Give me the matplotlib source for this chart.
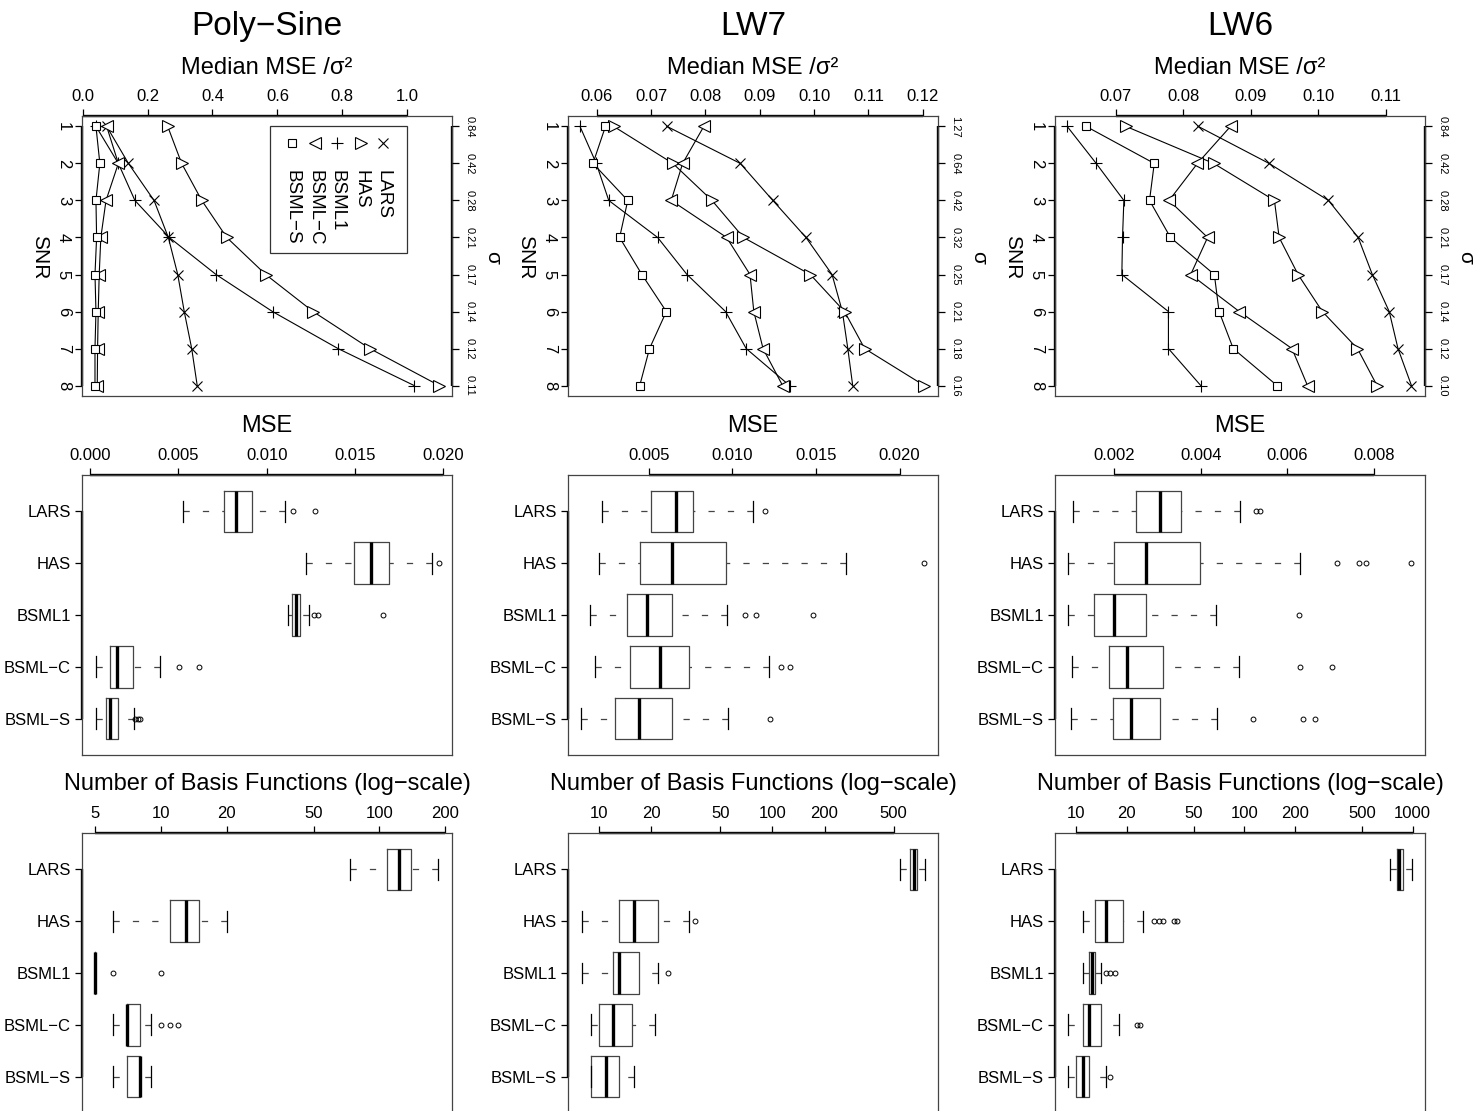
import numpy as np
import matplotlib.pyplot as plt
from matplotlib.patches import Rectangle
from matplotlib.ticker import NullLocator

plt.rcParams['font.family'] = ['Liberation Sans', 'DejaVu Sans']

titles = ['Poly\u2212Sine', 'LW7', 'LW6']
methods = ['LARS', 'HAS', 'BSML1', 'BSML\u2212C', 'BSML\u2212S']
snr = [1, 2, 3, 4, 5, 6, 7, 8]

sigma_labels = [
    ['0.84', '0.42', '0.28', '0.21', '0.17', '0.14', '0.12', '0.11'],
    ['1.27', '0.64', '0.42', '0.32', '0.25', '0.21', '0.18', '0.16'],
    ['0.84', '0.42', '0.28', '0.21', '0.17', '0.14', '0.12', '0.10'],
]

# median MSE / sigma^2 against SNR (order: LARS, HAS, BSML1, BSML-C, BSML-S)
polysine_med = [
    [0.074, 0.141, 0.220, 0.264, 0.293, 0.313, 0.336, 0.353],
    [0.262, 0.305, 0.367, 0.444, 0.564, 0.710, 0.885, 1.099],
    [0.041, 0.110, 0.161, 0.267, 0.411, 0.585, 0.787, 1.022],
    [0.074, 0.110, 0.072, 0.056, 0.051, 0.048, 0.046, 0.045],
    [0.041, 0.053, 0.041, 0.043, 0.038, 0.041, 0.038, 0.038],
]
lw7_med = [
    [0.0729, 0.0864, 0.0924, 0.0985, 0.1033, 0.1052, 0.1062, 0.1071],
    [0.0631, 0.0740, 0.0812, 0.0870, 0.0993, 0.1056, 0.1093, 0.1203],
    [0.0569, 0.0599, 0.0622, 0.0712, 0.0766, 0.0837, 0.0875, 0.0955],
    [0.0797, 0.0758, 0.0737, 0.0839, 0.0882, 0.0889, 0.0906, 0.0942],
    [0.0616, 0.0593, 0.0657, 0.0642, 0.0683, 0.0728, 0.0697, 0.0679],
]
lw6_med = [
    [0.0822, 0.0927, 0.1015, 0.1059, 0.1080, 0.1105, 0.1118, 0.1138],
    [0.0715, 0.0845, 0.0935, 0.0942, 0.0970, 0.1006, 0.1058, 0.1087],
    [0.0628, 0.0671, 0.0712, 0.0710, 0.0709, 0.0778, 0.0778, 0.0826],
    [0.0870, 0.0821, 0.0779, 0.0836, 0.0811, 0.0883, 0.0961, 0.0984],
    [0.0656, 0.0757, 0.0750, 0.0781, 0.0846, 0.0853, 0.0874, 0.0939],
]

# boxplot stats: [low whisker, q1, median, q3, high whisker], outliers
polysine_mse = [
    ([0.00526, 0.00756, 0.00828, 0.00917, 0.01106], [0.01149, 0.01276]),
    ([0.01225, 0.01497, 0.01592, 0.01692, 0.01938], [0.01975]),
    ([0.01119, 0.01144, 0.01168, 0.01191, 0.01242], [0.01270, 0.01289, 0.0166]),
    ([0.00034, 0.00113, 0.00151, 0.00242, 0.00393], [0.00505, 0.00614]),
    ([0.00032, 0.00091, 0.00113, 0.00155, 0.00250], [0.00255, 0.00268, 0.0028]),
]
lw7_mse = [
    ([0.00221, 0.00516, 0.00665, 0.00765, 0.01124], [0.01193]),
    ([0.00203, 0.00446, 0.00639, 0.00960, 0.01681], [0.02145]),
    ([0.00147, 0.00373, 0.00492, 0.00639, 0.00968], [0.01074, 0.01143, 0.01482]),
    ([0.00177, 0.00390, 0.00570, 0.00741, 0.01219], [0.01289, 0.01343]),
    ([0.00098, 0.00297, 0.00440, 0.00639, 0.00974], [0.01223]),
]
lw6_mse = [
    ([0.00105, 0.00250, 0.00306, 0.00354, 0.00490], [0.00527, 0.00537]),
    ([0.00095, 0.00200, 0.00274, 0.00398, 0.00629], [0.00713, 0.00765, 0.00782, 0.00885]),
    ([0.00095, 0.00155, 0.00200, 0.00273, 0.00435], [0.00627]),
    ([0.00104, 0.00188, 0.00229, 0.00314, 0.00489], [0.00629, 0.00702]),
    ([0.00101, 0.00197, 0.00239, 0.00306, 0.00438], [0.00521, 0.00635, 0.00663]),
]

polysine_nbf = [
    ([73, 108, 123, 140, 186], []),
    ([6, 11, 13, 15, 20], []),
    ([5, 5, 5, 5, 5], [6, 10]),
    ([6, 7, 7, 8, 9], [10, 11, 12]),
    ([6, 7, 8, 8, 9], []),
]
lw7_nbf = [
    ([543, 625, 653, 683, 756], []),
    ([8, 13, 16, 22, 33], [36]),
    ([8, 12, 13, 17, 22], [25]),
    ([9, 10, 12, 15.5, 21], []),
    ([9, 9, 11, 13, 16], []),
]
lw6_nbf = [
    ([733, 803, 833, 880, 986], []),
    ([11, 13, 15, 19, 25], [29, 31, 33, 38, 40]),
    ([11, 12, 12.5, 13, 14], [15, 16, 17]),
    ([9, 11, 12, 14, 18], [23, 24]),
    ([9, 10, 11, 12, 15], [16]),
]

med_ticks = [[0.0, 0.2, 0.4, 0.6, 0.8, 1.0],
             [0.06, 0.07, 0.08, 0.09, 0.10, 0.11, 0.12],
             [0.07, 0.08, 0.09, 0.10, 0.11]]
med_fmt = ['%.1f', '%.2f', '%.2f']
med_lims = [(-0.002, 1.138), (0.0547, 0.1228), (0.0610, 0.1158)]

mse_ticks = [[0.0, 0.005, 0.010, 0.015, 0.020],
             [0.005, 0.010, 0.015, 0.020],
             [0.002, 0.004, 0.006, 0.008]]
mse_lims = [(-0.00047, 0.02051), (0.00018, 0.02229), (0.00064, 0.00917)]

nbf_ticks = [[5, 10, 20, 50, 100, 200],
             [10, 20, 50, 100, 200, 500],
             [10, 20, 50, 100, 200, 500, 1000]]
nbf_lims = [(4.35, 215), (6.62, 903), (7.5, 1183)]

markers = [('x', 7), ('>', 8), ('+', 8.5), ('<', 8), ('s', 6)]

W, H = 1479, 1111
col_left = [82, 568, 1055]
row_top = [116, 475, 833]
AW, AH = 370, 280

fig = plt.figure(figsize=(W / 100, H / 100), dpi=100)

TICK = 12
LAB = 17
GREY = '#444444'


def make_axes(col, row):
    ax = fig.add_axes([col_left[col] / W, 1 - (row_top[row] + AH) / H, AW / W, AH / H])
    for s in ax.spines.values():
        s.set_color(GREY)
        s.set_linewidth(0.9)
    ax.tick_params(which='both', direction='out', length=5, width=0.9, labelsize=TICK)
    ax.xaxis.tick_top()
    return ax


def axis_line(ax, side, lo, hi):
    kw = dict(color='black', lw=1.7, clip_on=False, solid_capstyle='butt')
    if side == 'top':
        ax.plot([lo, hi], [1, 1], transform=ax.get_xaxis_transform(), **kw)
    elif side == 'left':
        ax.plot([0, 0], [lo, hi], transform=ax.get_yaxis_transform(), **kw)
    else:
        ax.plot([1, 1], [lo, hi], transform=ax.get_yaxis_transform(), **kw)


med_data = [polysine_med, lw7_med, lw6_med]
mse_data = [polysine_mse, lw7_mse, lw6_mse]
nbf_data = [polysine_nbf, lw7_nbf, lw6_nbf]

for c in range(3):
    # ---- top row: median MSE / sigma^2 vs SNR
    ax = make_axes(c, 0)
    for series, (m, ms) in zip(med_data[c], markers):
        ax.plot(series, snr, color='black', lw=0.8, marker=m, ms=ms,
                mfc='white', mec='black', mew=0.8)
    ax.set_xlim(*med_lims[c])
    ax.set_ylim(8.28, 0.72)
    ax.set_xticks(med_ticks[c])
    ax.set_xticklabels([med_fmt[c] % t for t in med_ticks[c]])
    ax.set_yticks(snr)
    ax.set_yticklabels([str(s) for s in snr], rotation=-90, va='center')
    ax.tick_params(axis='y', pad=3)
    axis_line(ax, 'top', med_ticks[c][0], med_ticks[c][-1])
    axis_line(ax, 'left', 1, 8)
    axis_line(ax, 'right', 1, 8)

    ax2 = ax.twinx()
    ax2.set_ylim(8.28, 0.72)
    ax2.set_yticks(snr)
    ax2.set_yticklabels(sigma_labels[c], rotation=-90, va='center')
    ax2.tick_params(direction='out', length=5, width=0.9, labelsize=8, pad=4)
    for s in ax2.spines.values():
        s.set_visible(False)

    ax.text(0.5, 1.318, titles[c], transform=ax.transAxes, ha='center', va='center', fontsize=24)
    ax.text(0.5, 1.171, 'Median MSE /\u03c3\u00b2', transform=ax.transAxes,
            ha='center', va='center', fontsize=LAB)
    ax.text(-0.116, 0.496, 'SNR', transform=ax.transAxes, rotation=-90,
            ha='center', va='center', fontsize=15)
    ax.text(1.111, 0.496, '\u03c3', transform=ax.transAxes, rotation=-90,
            ha='center', va='center', fontsize=15)

    if c == 0:
        ax.add_patch(Rectangle((0.508, 0.512), 0.370, 0.452, transform=ax.transAxes,
                               fill=False, ec='#333333', lw=0.9))
        leg_x = [0.814, 0.753, 0.689, 0.630, 0.568]
        for name, (m, ms), lx in zip(methods, markers, leg_x):
            ax.plot([lx], [0.904], transform=ax.transAxes, ls='none', marker=m, ms=ms,
                    mfc='white', mec='black', mew=0.8)
            ax.text(lx, 0.807, name, transform=ax.transAxes, rotation=-90,
                    ha='center', va='top', fontsize=13.5)

    # ---- middle row: MSE boxplots, bottom row: number of basis functions
    for row, data, lab in [(1, mse_data[c], 'MSE'),
                           (2, nbf_data[c], 'Number of Basis Functions (log\u2212scale)')]:
        bx = make_axes(c, row)
        if row == 2:
            bx.set_xscale('log')
        stats = []
        for name, (st, fl) in zip(methods, data):
            stats.append(dict(whislo=st[0], q1=st[1], med=st[2], q3=st[3], whishi=st[4],
                              fliers=fl, label=name))
        parts = bx.bxp(stats, positions=[1, 2, 3, 4, 5], widths=0.8, capwidths=0.4,
                       orientation='horizontal',
                       boxprops=dict(color=GREY, lw=0.9),
                       whiskerprops=dict(color=GREY, lw=0.9, linestyle=(0, (5, 10.5))),
                       capprops=dict(color='black', lw=0.9),
                       medianprops=dict(color='black', lw=2.4, solid_capstyle='butt'),
                       flierprops=dict(marker='o', mfc='none', mec='black', ms=3.5, mew=0.7))
        # dashes start at the staple end, as R draws them
        for wl in parts['whiskers']:
            wl.set_xdata(list(wl.get_xdata())[::-1])
            wl.set_ydata(list(wl.get_ydata())[::-1])
        bx.set_ylim(5.7, 0.3)
        bx.set_yticks([1, 2, 3, 4, 5])
        bx.set_yticklabels(methods)
        bx.tick_params(axis='y', pad=3)
        if row == 1:
            ticks = mse_ticks[c]
            bx.set_xlim(*mse_lims[c])
            bx.set_xticks(ticks)
            bx.set_xticklabels(['%.3f' % t for t in ticks])
        else:
            ticks = nbf_ticks[c]
            bx.set_xlim(*nbf_lims[c])
            bx.set_xticks(ticks)
            bx.set_xticklabels([str(t) for t in ticks])
            bx.xaxis.set_minor_locator(NullLocator())
        bx.xaxis.tick_top()
        axis_line(bx, 'top', ticks[0], ticks[-1])
        axis_line(bx, 'left', 1, 5)
        bx.text(0.5, 1.176, lab, transform=bx.transAxes, ha='center', va='center', fontsize=LAB)

fig.savefig('out.png', dpi=100)
